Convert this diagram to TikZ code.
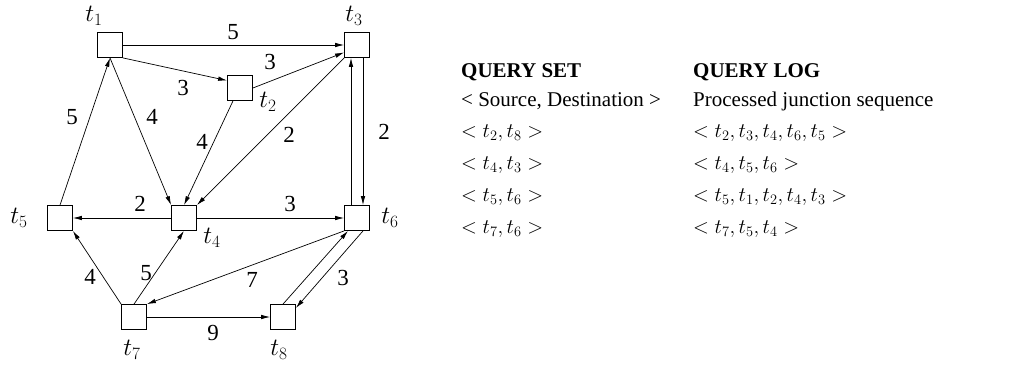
\documentclass[tikz,border=0pt]{standalone}
\usepackage{fontspec}
\setmainfont{Liberation Serif}
\usetikzlibrary{arrows.meta}
\begin{document}
\begin{tikzpicture}[x=1pt,y=-1pt,
  jn/.style={draw,line width=0.8pt,minimum size=25pt,inner sep=0pt,fill=white},
  nl/.style={font=\fontsize{25}{27}\selectfont},
  wl/.style={font=\fontsize{23}{25}\selectfont,inner sep=0pt},
  tx/.style={font=\fontsize{21}{24}\selectfont,anchor=base west,inner sep=0pt},
  arr/.style={line width=0.7pt,-{Latex[length=9pt,width=4.5pt]}},
  ln/.style={line width=0.7pt}]
\useasboundingbox (0,0) rectangle (1033,365);
% junctions
\node[jn] (t1) at (110,45) {};
\node[jn] (t3) at (357,45) {};
\node[jn] (t2) at (240,88) {};
\node[jn] (t5) at (60,218) {};
\node[jn] (t4) at (184,218) {};
\node[jn] (t6) at (357,218) {};
\node[jn] (t7) at (134,317) {};
\node[jn] (t8) at (283,317) {};
% junction labels
\node[nl] (l1) at (94,16) {$t_1$};
\node[nl] (l3) at (354,16) {$t_3$};
\node[nl] (l2) at (268,102) {$t_2$};
\node[nl] (l5) at (19,218) {$t_5$};
\node[nl] (l4) at (212,238) {$t_4$};
\node[nl] (l6) at (390,218) {$t_6$};
\node[nl] (l7) at (132,350) {$t_7$};
\node[nl] (l8) at (279,350) {$t_8$};
% connectors
\draw[arr] (t1.east) -- (t3.west);
\draw[arr] (t1.south east) -- (t2.150);
\draw[arr] (t2.east) -- (t3.210);
\draw[arr] (t5.north) -- (t1.south);
\draw[arr] (t1.south) -- (t4.north west);
\draw[arr] ([xshift=-7pt]t2.south) -- (t4.north);
\draw[arr] (t3.south west) -- (t4.north east);
\draw[arr] ([xshift=-6pt]t6.north) -- ([xshift=-6pt]t3.south);
\draw[arr] ([xshift=6pt]t3.south) -- ([xshift=6pt]t6.north);
\draw[arr] (t4.west) -- (t5.east);
\draw[arr] (t4.east) -- (t6.west);
\draw[arr] (t7.north west) -- (t5.south east);
\draw[arr] (t7.north) -- (t4.south);
\draw[arr] (t6.south west) -- (t7.north east);
\draw[arr] (t7.east) -- (t8.west);
\draw[arr] (t8.north) -- ([xshift=-9pt]t6.south);
\draw[arr] ([xshift=6pt]t6.south) -- (t8.35);
% weights
\node[wl] (w13) at (233,32) {5};
\node[wl] (w12) at (183,88) {3};
\node[wl] (w23) at (270,62) {3};
\node[wl] (w51) at (72,117) {5};
\node[wl] (w14) at (152,117) {4};
\node[wl] (w24) at (202,142) {4};
\node[wl] (w34) at (289,135) {2};
\node[wl] (w36) at (384,132) {2};
\node[wl] (w45) at (140,204) {2};
\node[wl] (w46) at (290,204) {3};
\node[wl] (w75) at (90,277) {4};
\node[wl] (w74) at (146,273) {5};
\node[wl] (w67) at (252,280) {7};
\node[wl] (w78) at (213,333) {9};
\node[wl] (w68) at (343,278) {3};
% table
\node[tx] (h1) at (461,77) {\textbf{QUERY SET}};
\node[tx] (h2) at (693,77) {\textbf{QUERY LOG}};
\node[tx] (s0) at (461,106) {< Source, Destination >};
\node[tx] (p0) at (693,106) {Processed junction sequence};
\node[tx] (s1) at (461,137) {$<t_2,t_8>$};
\node[tx] (p1) at (693,137) {$<t_2,t_3,t_4,t_6,t_5>$};
\node[tx] (s2) at (461,169) {$<t_4,t_3>$};
\node[tx] (p2) at (693,169) {$<t_4,t_5,t_6>$};
\node[tx] (s3) at (461,201) {$<t_5,t_6>$};
\node[tx] (p3) at (693,201) {$<t_5,t_1,t_2,t_4,t_3>$};
\node[tx] (s4) at (461,233) {$<t_7,t_6>$};
\node[tx] (p4) at (693,233) {$<t_7,t_5,t_4>$};
\end{tikzpicture}
\end{document}
